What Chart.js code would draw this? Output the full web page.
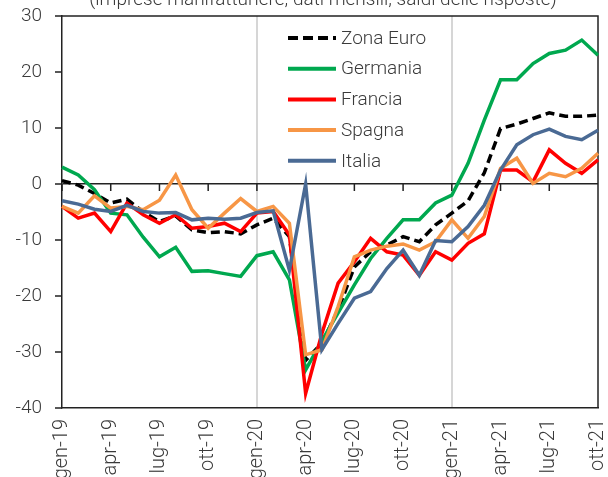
<!DOCTYPE html>
<html>
<head>
<meta charset="utf-8">
<script src="https://cdn.jsdelivr.net/npm/chart.js@4"></script>
<style>
  html, body { margin: 0; padding: 0; background: #fff; overflow: hidden; }
  #wrap { position: relative; width: 608px; height: 477px; }
</style>
</head>
<body>
<div id="wrap"><canvas id="chart" width="608" height="477"></canvas></div>
<script>
// mesi da gen-19 a ott-21
var labels = ['gen-19','feb-19','mar-19','apr-19','mag-19','giu-19','lug-19','ago-19','set-19','ott-19','nov-19','dic-19',
              'gen-20','feb-20','mar-20','apr-20','mag-20','giu-20','lug-20','ago-20','set-20','ott-20','nov-20','dic-20',
              'gen-21','feb-21','mar-21','apr-21','mag-21','giu-21','lug-21','ago-21','set-21','ott-21'];

var zonaEuro = [0.6, -0.2, -1.7, -3.4, -2.7, -5.0, -6.7, -5.7, -8.2, -8.7, -8.5, -8.9,
                -7.3, -6.1, -9.4, -31.5, -28.4, -22.5, -14.8, -12.1, -10.9, -9.4, -10.3, -7.3,
                -5.2, -3.0, 2.0, 9.9, 10.7, 11.7, 12.7, 12.1, 12.1, 12.3];
var germania = [3.0, 1.6, -1.0, -5.2, -5.5, -9.5, -13.0, -11.3, -15.6, -15.5, -16.0, -16.5,
                -12.8, -12.1, -17.1, -33.2, -28.0, -23.0, -18.0, -13.3, -9.7, -6.4, -6.4, -3.4,
                -2.0, 3.7, 11.4, 18.6, 18.6, 21.5, 23.3, 23.9, 25.7, 23.0];
var francia = [-4.0, -6.1, -5.2, -8.5, -3.4, -5.5, -7.0, -5.5, -7.9, -7.6, -7.0, -8.5,
               -5.2, -4.9, -9.1, -37.4, -26.7, -17.7, -13.9, -9.7, -12.1, -12.7, -16.3, -12.1,
               -13.6, -10.6, -8.9, 2.5, 2.5, 0.4, 6.1, 3.7, 1.9, 4.3];
var spagna = [-4.0, -5.2, -2.1, -4.3, -4.0, -4.6, -2.9, 1.6, -4.6, -7.9, -5.2, -2.6,
              -4.9, -4.0, -7.0, -30.5, -29.6, -21.9, -13.0, -11.8, -11.1, -10.7, -11.8, -10.3,
              -6.4, -9.7, -5.8, 2.8, 4.6, 0.1, 1.9, 1.3, 2.8, 5.5];
var italia = [-3.0, -3.6, -4.5, -4.9, -3.8, -4.9, -5.2, -5.1, -6.4, -6.1, -6.3, -6.1,
              -5.1, -4.8, -15.4, 0.0, -29.6, -24.9, -20.4, -19.2, -15.1, -11.8, -16.3, -10.1,
              -10.3, -7.6, -3.8, 2.5, 7.0, 8.8, 9.8, 8.5, 7.9, 9.6];

var yTicks = [30, 20, 10, 0, -10, -20, -30, -40];
var yearLines = ['gen-20', 'gen-21'];
var subtitle = '(imprese manifatturiere; dati mensili; saldi delle risposte)';

var FONT = 'Roboto';
var TEXT = '#3a3a3a';
var AXIS = '#222';

function serie(label, data, colour, order, dash) {
  return {
    label: label,
    data: data,
    borderColor: colour,
    backgroundColor: colour,
    borderWidth: 3.5,
    borderDash: dash || [],
    pointRadius: 0,
    tension: 0,
    fill: false,
    order: order
  };
}

// cornice, tacche, legenda e sottotitolo
var decorations = {
  id: 'decorations',
  beforeDatasetsDraw: function(chart) {
    var ctx = chart.ctx, a = chart.chartArea;
    var x = chart.scales.x, y = chart.scales.y;
    ctx.save();
    ctx.strokeStyle = AXIS;
    ctx.lineWidth = 1.5;
    ctx.beginPath();
    ctx.moveTo(a.left, a.top); ctx.lineTo(a.right, a.top); ctx.lineTo(a.right, a.bottom);
    // tacche asse y (esterne)
    yTicks.forEach(function(v) {
      var py = y.getPixelForValue(v);
      ctx.moveTo(a.left - 7, py);
      ctx.lineTo(a.left, py);
    });
    // tacche trimestrali sulla linea dello zero
    var y0 = y.getPixelForValue(0);
    for (var i = 0; i < labels.length; i += 3) {
      var px = x.getPixelForValue(i);
      ctx.moveTo(px, y0);
      ctx.lineTo(px, y0 + 7);
    }
    ctx.stroke();
    ctx.restore();
  },
  afterDraw: function(chart) {
    var ctx = chart.ctx;
    ctx.save();
    ctx.fillStyle = TEXT;
    ctx.font = '300 19px ' + FONT;
    ctx.textAlign = 'center';
    ctx.textBaseline = 'alphabetic';
    ctx.fillText(subtitle, 323, 5);

    var ds = chart.data.datasets;
    ctx.textAlign = 'left';
    ctx.textBaseline = 'middle';
    for (var i = 0; i < ds.length; i++) {
      var cy = 38 + i * 30.7;
      ctx.strokeStyle = ds[i].borderColor;
      ctx.lineWidth = 4;
      ctx.setLineDash(ds[i].borderDash.length ? [10, 5] : []);
      ctx.beginPath();
      ctx.moveTo(288, cy);
      ctx.lineTo(336, cy);
      ctx.stroke();
      ctx.setLineDash([]);
      ctx.fillStyle = TEXT;
      ctx.fillText(ds[i].label, 341, cy + 1);
    }
    ctx.restore();
  }
};

new Chart(document.getElementById('chart'), {
  type: 'line',
  data: {
    labels: labels,
    datasets: [
      serie('Zona Euro', zonaEuro, '#000000', 4, [9, 5]),
      serie('Germania', germania, '#00a84f', 3),
      serie('Francia', francia, '#ff0000', 2),
      serie('Spagna', spagna, '#f79646', 1),
      serie('Italia', italia, '#4a6a94', 0)
    ]
  },
  options: {
    responsive: false,
    animation: false,
    layout: { padding: { top: 16, right: 10, left: 0, bottom: 0 } },
    plugins: {
      legend: { display: false },
      title: { display: false },
      tooltip: { enabled: false }
    },
    scales: {
      x: {
        offset: false,
        afterFit: function(s) {
          s.height = 69;
          s.paddingLeft = 0; s.paddingRight = 0; s.paddingTop = 0; s.paddingBottom = 0;
        },
        grid: {
          drawTicks: false,
          lineWidth: 2,
          color: function(c) {
            return yearLines.indexOf(labels[c.index]) >= 0 ? '#d6d6d6' : 'rgba(0,0,0,0)';
          }
        },
        border: { display: true, color: AXIS, width: 1.5 },
        ticks: {
          autoSkip: false,
          maxRotation: 90,
          minRotation: 90,
          padding: 11,
          color: TEXT,
          font: { family: FONT, size: 20, weight: 300, lineHeight: 1 },
          callback: function(v, i) { return i % 3 === 0 ? labels[i] : ''; }
        }
      },
      y: {
        min: -40,
        max: 30,
        afterFit: function(s) {
          s.width = 62;
          s.paddingLeft = 0; s.paddingRight = 0; s.paddingTop = 0; s.paddingBottom = 0;
        },
        afterBuildTicks: function(s) { s.ticks = yTicks.map(function(v) { return { value: v }; }); },
        grid: {
          drawTicks: false,
          lineWidth: 1.5,
          color: function(c) { return c.tick && c.tick.value === 0 ? AXIS : 'rgba(0,0,0,0)'; }
        },
        border: { display: true, color: AXIS, width: 1.5 },
        ticks: {
          padding: 20,
          color: TEXT,
          font: { family: FONT, size: 19, weight: 300 }
        }
      }
    }
  },
  plugins: [decorations]
});
</script>
</body>
</html>
